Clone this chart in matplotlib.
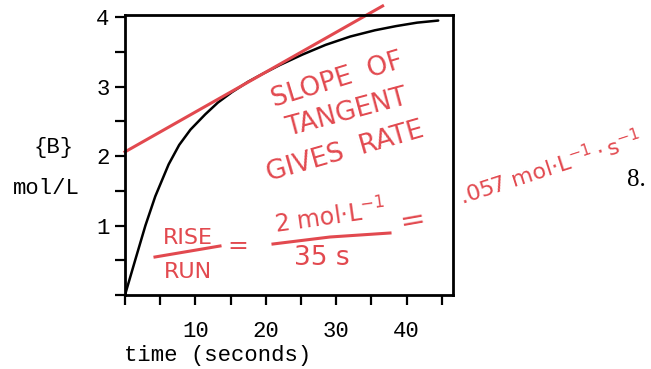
import numpy as np
import matplotlib.pyplot as plt
from matplotlib.ticker import MultipleLocator

# concentration of B
time_s = [0, 1.5, 2.9, 4.3, 6.2, 7.7, 9.3, 11.4, 13.2, 15.2, 17.5, 19.5,
          22.0, 25.2, 28.5, 32.0, 35.5, 38.5, 41.5, 44.5]
conc_B = [0, 0.52, 1.0, 1.42, 1.88, 2.16, 2.38, 2.6, 2.77, 2.92, 3.07, 3.18,
          3.31, 3.46, 3.6, 3.72, 3.81, 3.87, 3.92, 3.95]

# hand drawn tangent line
tan_t = [0, 36.6]
tan_c = [2.06, 4.16]

xticks = [10, 20, 30, 40]
yticks = [1, 2, 3, 4]

red = "#e2494f"
W, H = 651, 369

fig = plt.figure(figsize=(W / 100, H / 100), dpi=100)
ax = fig.add_axes([125 / W, 1 - 295 / H, 328 / W, 280 / H])

ax.plot(time_s, conc_B, color="black", lw=1.8, solid_capstyle="round")
ax.plot(tan_t, tan_c, color=red, lw=2.2, clip_on=False)

ax.set_xlim(0, 46.6)
ax.set_ylim(0, 4.03)
ax.set_xticks(xticks)
ax.set_yticks(yticks)
ax.xaxis.set_minor_locator(MultipleLocator(5))
ax.yaxis.set_minor_locator(MultipleLocator(0.5))
ax.tick_params(which="both", direction="out", length=7, width=1.6, color="black")
ax.tick_params(axis="x", labelsize=16, pad=12)
ax.tick_params(axis="y", labelsize=16, pad=4)
for lab in ax.get_xticklabels() + ax.get_yticklabels():
    lab.set_fontfamily("Liberation Mono")
for s in ax.spines.values():
    s.set_linewidth(2.0)

mono = dict(family="Liberation Mono", fontsize=16, color="black")
fig.text(124 / W, 1 - 355 / H, "time (seconds)", ha="left", va="center", **mono)
fig.text(54 / W, 1 - 148 / H, "{B}", ha="center", va="center", **mono)
fig.text(46 / W, 1 - 189 / H, "mol/L", ha="center", va="center", **mono)


def note(x, y, s, rot=0, size=15, **kw):
    fig.text(x / W, 1 - y / H, s, ha="center", va="center", rotation=rot,
             color=red, fontsize=size, family="DejaVu Sans", **kw)


note(337, 80, "SLOPE  OF", 17, 19)
note(347, 113, "TANGENT", 15, 19)
note(345, 152, "GIVES  RATE", 16, 19)
note(188, 238, "RISE", 0, 16)
note(188, 272, "RUN", 0, 16)
note(238, 246, "=", 0, 18)
note(330, 217, r"2 mol$\cdot$L$^{-1}$", 8, 17)
note(322, 258, "35 s", 0, 19)
note(413, 220, "=", 10, 22)
note(550, 168, r".057 mol$\cdot$L$^{-1}\cdot$s$^{-1}$", 18, 16)

# fraction bars
fig.add_artist(plt.Line2D([155 / W, 220 / W], [1 - 257 / H, 1 - 246 / H], color=red, lw=2.2))
fig.add_artist(plt.Line2D([273 / W, 330 / W, 390 / W], [1 - 244 / H, 1 - 237 / H, 1 - 233 / H],
                          color=red, lw=2.2))

fig.text(636 / W, 1 - 180 / H, "8.", ha="center", va="center",
         family="Liberation Serif", fontsize=18, color="black")

fig.savefig("out.png", dpi=100, facecolor="white")
